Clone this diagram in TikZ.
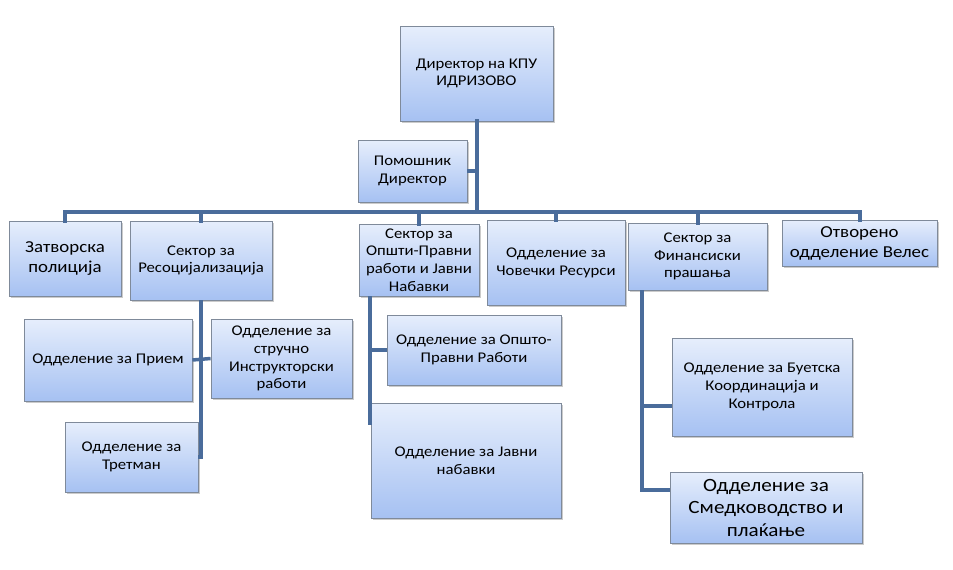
\documentclass[tikz,border=0pt]{standalone}
\usepackage{fontspec}
\setmainfont[FakeStretch=1.13]{Carlito}
\usetikzlibrary{shadows}
\definecolor{linecol}{HTML}{4A6C9B}
\definecolor{boxtop}{HTML}{E6EEFC}
\definecolor{boxbot}{HTML}{A6C1F2}
\definecolor{boxedge}{HTML}{7F8A9A}
\tikzset{
  box/.style={draw=boxedge, line width=0.8pt, top color=boxtop, bottom color=boxbot,
    inner sep=0pt, align=center, font=\fontsize{14.8}{17.8}\selectfont,
    drop shadow={shadow xshift=2pt, shadow yshift=-2pt, fill=black!40, opacity=0.5}},
  bigtxt/.style={font=\fontsize{16.7}{20}\selectfont},
  hugetxt/.style={font=\fontsize{18.7}{22.5}\selectfont},
  conn/.style={draw=linecol, line width=4pt, line cap=rect},
  subconn/.style={draw=linecol, line width=3.5pt}
}
\begin{document}
\begin{tikzpicture}[x=1pt,y=-1pt]
\useasboundingbox (0,0) rectangle (953,570);
\fill[white] (0,0) rectangle (953,570);
\coordinate (busL) at (65,212);
\coordinate (busR) at (859,212);
\coordinate (opsc) at (370,296);
\coordinate (opsend) at (370,425);
\coordinate (finc) at (642,290);
\coordinate (finend) at (642,490);
\coordinate (bueconn) at (672,406);
\coordinate (smeconn) at (670,490);
\coordinate (oprconn) at (387,350);
% boxes
\node[box, minimum width=153, minimum height=95] (dir) at (476.5,73.5) {Директор на КПУ\\ИДРИЗОВО};
\node[box, minimum width=109, minimum height=62] (pom) at (412.5,171) {Помошник\\Директор};
\node[box, bigtxt, minimum width=112, minimum height=75] (zat) at (65,258.5) {Затворска\\полиција};
\node[box, minimum width=142, minimum height=79] (res) at (201,260.5) {Сектор за\\Ресоцијализација};
\node[box, minimum width=120, minimum height=72] (ops) at (419,260) {Сектор за\\Општи-Правни\\работи и Јавни\\Набавки};
\node[box, minimum width=138, minimum height=85] (cov) at (556,262.5) {Одделение за\\Човечки Ресурси};
\node[box, minimum width=139, minimum height=67] (fin) at (697.5,256.5) {Сектор за\\Финансиски\\прашања};
\node[box, bigtxt, minimum width=155, minimum height=46] (otv) at (859.5,243) {Отворено\\одделение Велес};
\node[box, minimum width=168, minimum height=82] (pri) at (108,360) {Одделение за Прием};
\node[box, minimum width=141, minimum height=79] (str) at (281.5,358.5) {Одделение за\\стручно\\Инструкторски\\работи};
\node[box, minimum width=133, minimum height=70] (tre) at (131.5,457) {Одделение за\\Третман};
\node[box, minimum width=174, minimum height=70] (opr) at (474,350) {Одделение за Општо-\\Правни Работи};
\node[box, minimum width=190, minimum height=115] (jav) at (466,460.5) {Одделение за Јавни\\набавки};
\node[box, minimum width=180, minimum height=98] (bue) at (762,387) {Одделение за Буетска\\Координација и\\Контрола};
\node[box, hugetxt, minimum width=192, minimum height=71] (sme) at (766,507.5) {Одделение за\\Смедководство и\\плаќање};
% connectors
\draw[conn] (dir.south) -- (dir.south |- busL);
\draw[subconn] (pom.east) -- (pom.east -| dir.south);
\draw[conn] (busL) -- (busR);
\draw[conn] (zat.north) -- (zat.north |- busL);
\draw[conn] (res.north) -- (res.north |- busL);
\draw[conn] (ops.north) -- (ops.north |- busL);
\draw[conn] (cov.north) -- (cov.north |- busL);
\draw[conn] (fin.north) -- (fin.north |- busL);
\draw[conn] (otv.north) -- (otv.north |- busL);
\draw[subconn] (res.south) -- (res.south |- tre.east) -- (tre.east);
\draw[subconn] (pri.east) -- (str.west);
\draw[subconn] (opsc) -- (opsend);
\draw[subconn] (oprconn -| opsc) -- (oprconn);
\draw[subconn] (finc) -- (finend) -- (smeconn);
\draw[subconn] (bueconn -| finc) -- (bueconn);
\end{tikzpicture}
\end{document}
